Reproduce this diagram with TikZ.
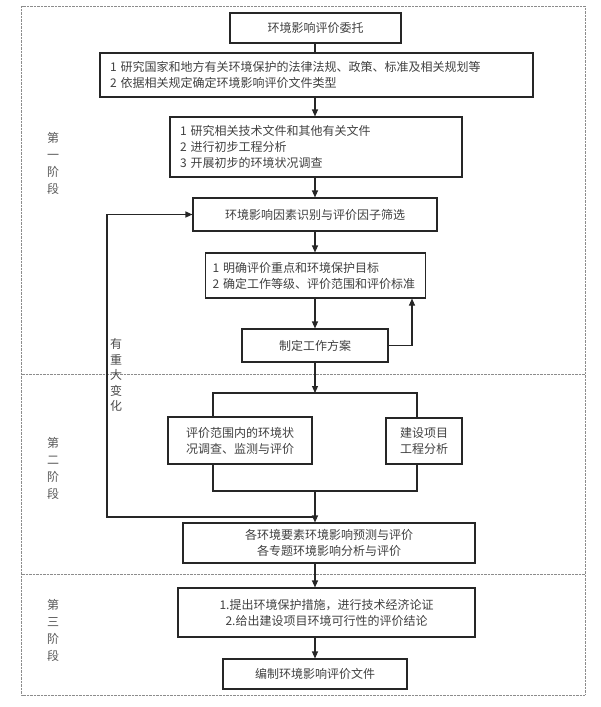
\documentclass[tikz,border=0pt]{standalone}
\usepackage{fontspec}
\newfontfamily\cjk{Noto Sans CJK SC}
\usetikzlibrary{arrows.meta}
\tikzset{
  box/.style={draw=black!85, line width=1.1pt, inner sep=0pt, align=center,
    font=\cjk\fontsize{12}{16}\selectfont, text=black!75},
  lbox/.style={box, align=left, inner xsep=10pt},
  conn/.style={draw=black!85, line width=1.1pt},
  arr/.style={conn, -{Triangle[length=7pt,width=6pt]}},
  frame/.style={draw=black!45, line width=0.9pt, dash pattern=on 0.7pt off 0.7pt},
  stage/.style={font=\cjk\fontsize{12}{17}\selectfont, text=black!65, align=center, inner sep=0pt},
  side/.style={font=\cjk\fontsize{12}{15.5}\selectfont, text=black!70, align=center, inner sep=0pt}
}
\begin{document}
\begin{tikzpicture}[x=1pt,y=-1pt]
\useasboundingbox (0,0) rectangle (600,707);
% frame and separators
\draw[frame] (21.5,6) rectangle (585,695);
\coordinate (sepA1) at (21.5,374); \coordinate (sepA2) at (585,374);
\coordinate (sepB1) at (21.5,574); \coordinate (sepB2) at (585,574);
\draw[frame] (sepA1) -- (sepA2);
\draw[frame] (sepB1) -- (sepB2);
% stage labels
\node[stage] (st1) at (53,163) {第\\一\\阶\\段};
\node[stage] (st2) at (53,468) {第\\二\\阶\\段};
\node[stage] (st3) at (53,630) {第\\三\\阶\\段};
\node[side] (chg) at (116,375) {有\\重\\大\\变\\化};
% boxes
\node[box, minimum width=171pt, minimum height=30pt] (b1) at (315.5,28) {环境影响评价委托};
\node[lbox, text width=413pt, minimum height=44pt] (b2) at (316.5,75) {1 研究国家和地方有关环境保护的法律法规、政策、标准及相关规划等\\2 依据相关规定确定环境影响评价文件类型};
\node[lbox, text width=272pt, minimum height=60pt] (b3) at (316,147) {1 研究相关技术文件和其他有关文件\\2 进行初步工程分析\\3 开展初步的环境状况调查};
\node[box, minimum width=244pt, minimum height=33pt] (b4) at (315,214.5) {环境影响因素识别与评价因子筛选};
\node[lbox, inner xsep=7pt, text width=206pt, minimum height=45pt] (b5) at (315.5,275.5) {1 明确评价重点和环境保护目标\\2 确定工作等级、评价范围和评价标准};
\node[box, minimum width=146pt, minimum height=33pt] (b6) at (315,345.5) {制定工作方案};
\node[box, minimum width=144pt, minimum height=47pt] (b7) at (240,440.5) {评价范围内的环境状\\况调查、监测与评价};
\node[box, minimum width=76pt, minimum height=46pt] (b8) at (424,441) {建设项目\\工程分析};
\node[box, minimum width=292pt, minimum height=40pt] (b9) at (329,543) {各环境要素环境影响预测与评价\\各专题环境影响分析与评价};
\node[box, minimum width=297pt, minimum height=49pt] (b10) at (326.5,612.5) {1.提出环境保护措施，进行技术经济论证\\2.给出建设项目环境可行性的评价结论};
\node[box, minimum width=184pt, minimum height=30pt] (b11) at (315,674) {编制环境影响评价文件};
% helper coordinates
\coordinate (axis) at (315,0);
\coordinate (splitL) at (213,393);
\coordinate (splitC) at (315,393);
\coordinate (splitR) at (417,393);
\coordinate (mergeL) at (213,491);
\coordinate (mergeC) at (315,491);
\coordinate (mergeR) at (417,491);
\coordinate (fbStart) at (315,517);
\coordinate (fbCorner) at (107,214.5);
\coordinate (loop) at (412,345.5);
% connectors
\draw[conn] (b1.south -| axis) -- (b2.north -| axis);
\draw[arr] (b2.south -| axis) -- (b3.north -| axis);
\draw[arr] (b3.south -| axis) -- (b4.north -| axis);
\draw[arr] (b4.south -| axis) -- (b5.north -| axis);
\draw[arr] (b5.south -| axis) -- (b6.north -| axis);
\draw[conn] (b6.east) -- (loop);
\draw[arr] (loop) -- (b5.south -| loop);
\draw[arr] (b6.south -| axis) -- (splitC);
\draw[conn] (b7.north -| splitL) -- (splitL) -- (splitR) -- (b8.north -| splitR);
\draw[conn] (b7.south -| mergeL) -- (mergeL) -- (mergeR) -- (b8.south -| mergeR);
\draw[arr] (mergeC) -- (b9.north -| mergeC);
\draw[arr] (fbStart) -| (fbCorner) -- (b4.west);
\draw[arr] (b9.south -| axis) -- (b10.north -| axis);
\draw[arr] (b10.south -| axis) -- (b11.north -| axis);
\end{tikzpicture}
\end{document}
